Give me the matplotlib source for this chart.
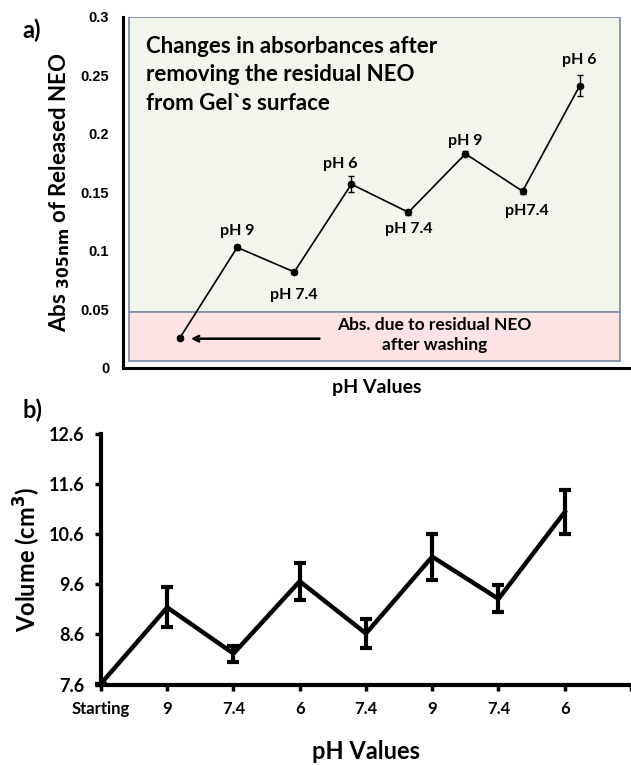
import numpy as np
import matplotlib.pyplot as plt
from matplotlib.patches import Rectangle

plt.rcParams['font.family'] = ['Lato', 'DejaVu Sans']

# panel a data: absorbance of released NEO
abs_x = [1, 2, 3, 4, 5, 6, 7, 8]
abs_val = [0.026, 0.103, 0.082, 0.157, 0.133, 0.183, 0.151, 0.241]
abs_err = [0.001, 0.002, 0.002, 0.007, 0.002, 0.002, 0.002, 0.009]
abs_labels = ['', 'pH 9', 'pH 7.4', 'pH 6', 'pH 7.4', 'pH 9', 'pH7.4', 'pH 6']
abs_lab_pos = [None, (2, 0.117), (3, 0.062), (3.8, 0.174), (5, 0.119),
               (6, 0.194), (7.07, 0.134), (8, 0.263)]

# panel b data: gel volume
vol_x = [0, 1, 2, 3, 4, 5, 6, 7]
vol_ticks = ['Starting', '9', '7.4', '6', '7.4', '9', '7.4', '6']
vol_val = [7.62, 9.14, 8.22, 9.66, 8.62, 10.15, 9.31, 11.04]
vol_err = [0.0, 0.40, 0.16, 0.37, 0.28, 0.46, 0.27, 0.44]

fig = plt.figure(figsize=(6.31, 7.65), dpi=100)
fig.patch.set_color('white')

# ---- a) ----
ax = fig.add_axes([0.195, 0.519, 0.805, 0.459])
ax.set_xlim(0, 8.9)
ax.set_ylim(0, 0.3)
ax.add_patch(Rectangle((0.1, 0.048), 8.6, 0.252, facecolor='#f1f5ec',
                       edgecolor='#8090a8', lw=1.3, zorder=0))
ax.add_patch(Rectangle((0.1, 0.006), 8.6, 0.042, facecolor='#fde3e3',
                       edgecolor='#8090a8', lw=1.3, zorder=0))
ax.errorbar(abs_x, abs_val, yerr=abs_err, color='black', lw=1.2,
            marker='o', ms=4.5, capsize=2.5, elinewidth=1, zorder=3)
for lab, pos in zip(abs_labels, abs_lab_pos):
    if lab:
        ax.text(pos[0], pos[1], lab, ha='center', va='center',
                fontsize=11.5, fontweight='bold')
ax.text(0.4, 0.284, "Changes in absorbances after\nremoving the residual NEO\nfrom Gel`s surface",
        ha='left', va='top', fontsize=16, fontweight='bold',
        linespacing=1.45)
ax.annotate('', xy=(1.14, 0.025), xytext=(3.49, 0.025),
            arrowprops=dict(arrowstyle='->', color='black', lw=1.8))
ax.text(5.46, 0.028, "Abs. due to residual NEO\nafter washing", ha='center',
        va='center', fontsize=12.5, fontweight='bold', linespacing=1.3)
for s in ['top', 'right']:
    ax.spines[s].set_visible(False)
for s in ['left', 'bottom']:
    ax.spines[s].set_linewidth(2.2)
ax.set_xticks([])
ax.set_yticks([0, 0.05, 0.1, 0.15, 0.2, 0.25, 0.3])
ax.set_yticklabels(['0', '0.05', '0.1', '0.15', '0.2', '0.25', '0.3'],
                   family='Liberation Sans', fontweight='bold', fontsize=10.5)
ax.tick_params(axis='y', length=0, pad=10)
ax.set_ylabel(r'Abs $_{\mathbf{305nm}}$ of Released NEO', fontsize=16,
              fontweight='bold', labelpad=6)
ax.set_xlabel('pH Values', fontsize=14, fontweight='bold', labelpad=8)
fig.text(0.035, 0.96, 'a)', fontsize=17, fontweight='bold', va='center')

# ---- b) ----
bx = fig.add_axes([0.160, 0.105, 0.840, 0.328])
bx.errorbar(vol_x, vol_val, yerr=vol_err, color='black', lw=3.2,
            elinewidth=3, capsize=4, capthick=3, zorder=3, clip_on=False)
bx.set_xlim(0, 8)
bx.set_ylim(7.6, 12.6)
bx.set_xticks(vol_x + [8])
bx.set_xticklabels(vol_ticks + [''], fontsize=12, fontweight='bold')
bx.set_yticks([7.6, 8.6, 9.6, 10.6, 11.6, 12.6])
bx.set_yticklabels(['7.6', '8.6', '9.6', '10.6', '11.6', '12.6'],
                   fontsize=13, fontweight='bold')
for s in ['top', 'right']:
    bx.spines[s].set_visible(False)
for s in ['left', 'bottom']:
    bx.spines[s].set_linewidth(3)
bx.tick_params(length=4, width=2.5, pad=8)
bx.set_ylabel(r'Volume (cm$^\mathbf{3}$)', fontsize=17, fontweight='bold',
              labelpad=4)
bx.set_xlabel('pH Values', fontsize=17, fontweight='bold', labelpad=16)
fig.text(0.035, 0.464, 'b)', fontsize=17, fontweight='bold', va='center')

plt.savefig('out.png', dpi=100)
